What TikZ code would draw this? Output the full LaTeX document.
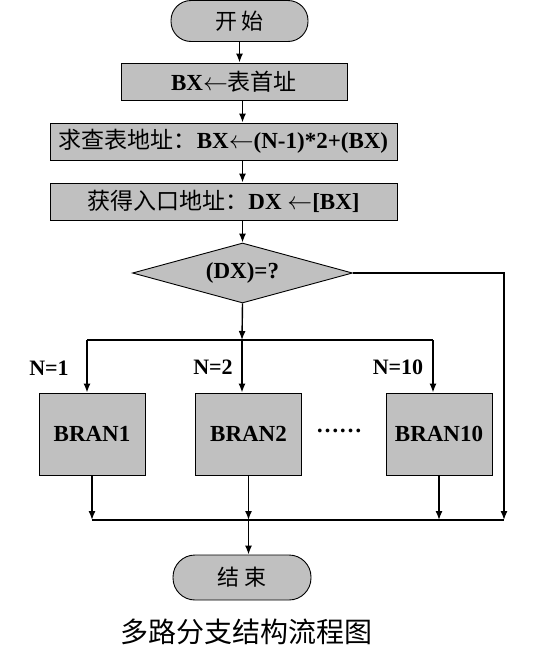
\documentclass[tikz,border=0pt]{standalone}
\usepackage{fontspec}
\setmainfont{Liberation Serif}
\newfontfamily\cjk{Noto Sans CJK SC}
\usepackage{tikz}
\usetikzlibrary{arrows.meta}
\usetikzlibrary{shapes.geometric}
\definecolor{boxgray}{RGB}{192,192,192}

\begin{document}
\begin{tikzpicture}[x=1pt, y=-1pt,
		box/.style={draw, fill=boxgray, line width=.9pt, inner sep=0pt, font=\fontsize{23}{27}\selectfont},
		term/.style={box, font=\cjk\fontsize{22}{26}\selectfont},
		flow/.style={line width=1.4pt, -{Latex[length=9pt,width=7pt]}},
		link/.style={line width=1.4pt},
		case/.style={font=\fontsize{22}{26}\selectfont}]
				\useasboundingbox (0,0) rectangle (555,656);
				\node[term, rounded corners=20pt, minimum width=137pt, minimum height=41pt] (start) at (239.5,21) {开\ 始};
				\node[box, minimum width=226pt, minimum height=37pt] (init) at (234,81.5) {\textbf{BX}$\leftarrow${\cjk 表首址}};
				\node[box, minimum width=347pt, minimum height=37pt] (addr) at (223.5,141.5) {{\cjk 求查表地址：}\textbf{BX$\leftarrow$(N-1)*2+(BX)}};
				\node[box, minimum width=347pt, minimum height=37pt] (entry) at (223.5,201.5) {{\cjk 获得入口地址：}\textbf{DX $\leftarrow$[BX]}};
				\node[box, diamond, aspect=3.667, minimum width=220pt, minimum height=60pt] (test) at (242.5,273) {\textbf{(DX)=?}};
				\foreach \x/\n/\t in {92/b1/BRAN1, 248.5/b2/BRAN2, 439/b10/BRAN10} {
					\node[box, minimum width=106pt, minimum height=82pt] (\n) at (\x,434) {\textbf{\t}};
				}
				\node[case] (n1) at (49,368) {\textbf{N=1}};
				\node[case] (n2) at (213,367) {\textbf{N=2}};
				\node[case] (n10) at (398,367) {\textbf{N=10}};
				\node[font=\fontsize{23}{27}\selectfont] (dots) at (339,431) {\textbf{……}};
				\node[term, rounded corners=22pt, minimum width=138pt, minimum height=45pt] (stop) at (242,577.5) {结\ 束};
				\node[font=\cjk\fontsize{28}{32}\selectfont] (title) at (246,632) {多路分支结构流程图};
				\coordinate (fork) at (242,340);
				\coordinate (forkl) at (87,340);
				\coordinate (forkr) at (433,340);
				\coordinate (joinl) at (92,520);
				\coordinate (joinr) at (504,520);
				\draw[flow] (start.south) -- (start.south |- init.north);
				\draw[flow] (init.south -| test) -- (addr.north -| test);
				\draw[flow] (addr.south -| test) -- (entry.north -| test);
				\draw[flow] (entry.south -| test) -- (test.north);
				\draw[flow] (test.south) -- (fork);
				\draw[link] (forkl) -- (forkr);
				\draw[flow] (forkl) -- (forkl |- b1.north);
				\draw[flow] (fork) -- (fork |- b2.north);
				\draw[flow] (forkr) -- (forkr |- b10.north);
				\draw[flow] (test.east) -| (joinr);
				\draw[link] (joinl) -- (joinr);
				\draw[flow] (b1.south) -- (b1.south |- joinl);
				\draw[flow] (b10.south) -- (b10.south |- joinl);
				\draw[flow] (b2.south) -- (b2.south |- joinl);
				\draw[flow] (b2.south |- joinl) -- (b2.south |- stop.north);
			\end{tikzpicture}
\end{document}
